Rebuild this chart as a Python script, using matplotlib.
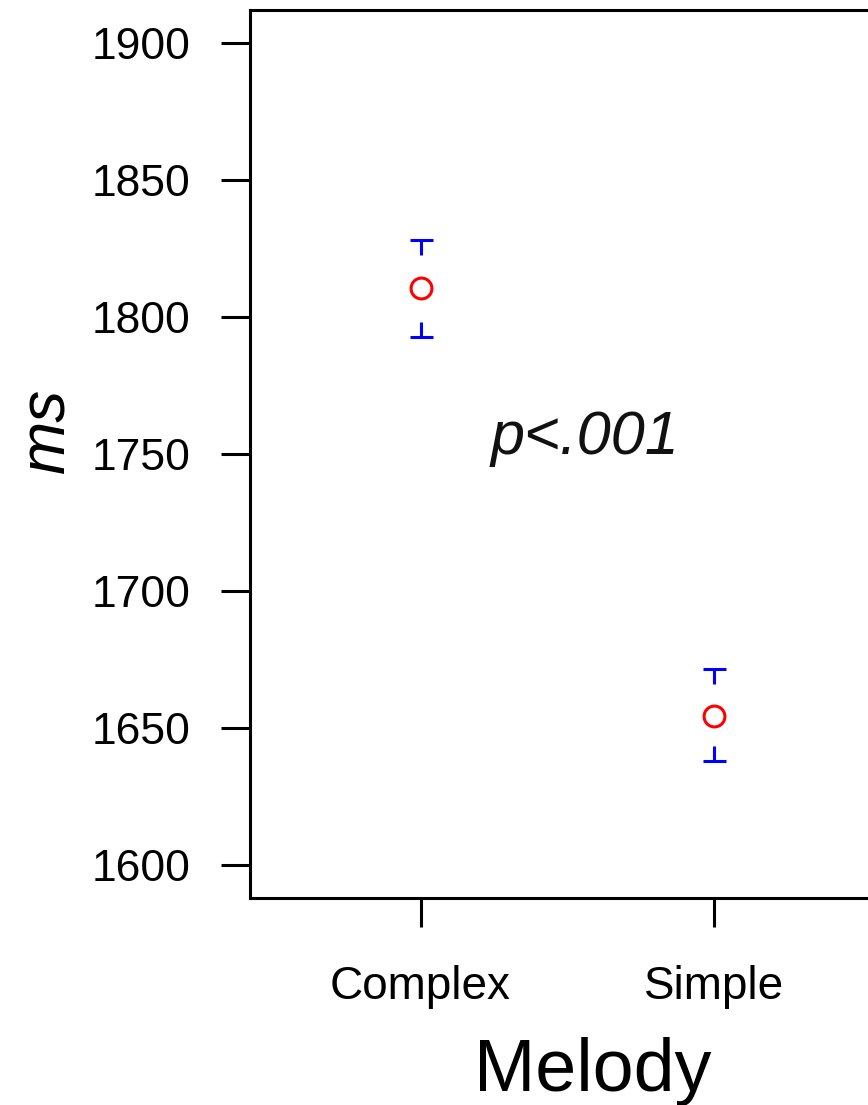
#!/usr/bin/env python3
"""Mean response time (ms) by melody type, with error bar caps."""

import matplotlib

matplotlib.use("Agg")
import matplotlib.pyplot as plt
from matplotlib.path import Path

# data
melody = ["Complex", "Simple"]
mean_ms = [1810.5, 1654.5]
upper_ms = [1828.2, 1671.5]
lower_ms = [1792.6, 1638.0]
y_ticks = [1600, 1650, 1700, 1750, 1800, 1850, 1900]

FONT = ["Liberation Sans", "DejaVu Sans"]
LW = 2.2

# T-shaped cap markers: bar with a short stub pointing towards the mean
CAP_TOP = Path([(-11.5, 0), (11.5, 0), (0, 0), (0, -15)],
               [Path.MOVETO, Path.LINETO, Path.MOVETO, Path.LINETO])
CAP_BOT = Path([(-11.5, 0), (11.5, 0), (0, 0), (0, 15)],
               [Path.MOVETO, Path.LINETO, Path.MOVETO, Path.LINETO])


def main() -> int:
    plt.rcParams["font.family"] = FONT

    fig = plt.figure(figsize=(8.68, 11.05), dpi=100)
    # axes runs past the right edge of the figure, as in the reference crop
    ax = fig.add_axes([250 / 868, 207 / 1105, 635 / 868, 888 / 1105])

    xs = list(range(1, len(melody) + 1))
    ax.plot(xs, mean_ms, linestyle="none", marker="o", ms=15, mfc="none",
            mec="#ff0000", mew=LW, clip_on=False)
    ax.plot(xs, upper_ms, linestyle="none", marker=CAP_TOP, ms=21.6,
            mfc="none", mec="#0000ff", mew=LW)
    ax.plot(xs, lower_ms, linestyle="none", marker=CAP_BOT, ms=21.6,
            mfc="none", mec="#0000ff", mew=LW)

    ax.text(1.56, 1750, "p<.001", ha="center", va="baseline", fontsize=44,
            style="italic", color="#111111")

    ax.set_xlim(0.42, 2.58)
    ax.set_ylim(1588, 1912)
    ax.set_xticks(xs)
    ax.set_xticklabels(melody)
    ax.set_yticks(y_ticks)

    for side in ("top", "bottom", "left", "right"):
        ax.spines[side].set_linewidth(LW)
    ax.tick_params(axis="both", direction="out", length=21, width=LW,
                   labelsize=32)
    ax.tick_params(axis="x", labelsize=33, pad=27)
    ax.tick_params(axis="y", pad=22)

    ax.set_xlabel("Melody", fontsize=53)
    ax.xaxis.set_label_coords(0.539, -0.157)
    ax.set_ylabel("ms", fontsize=46, style="italic")
    ax.yaxis.set_label_coords(-0.272, 0.527)

    fig.savefig("out.png", dpi=100)
    plt.close(fig)
    return 0


if __name__ == "__main__":
    raise SystemExit(main())
